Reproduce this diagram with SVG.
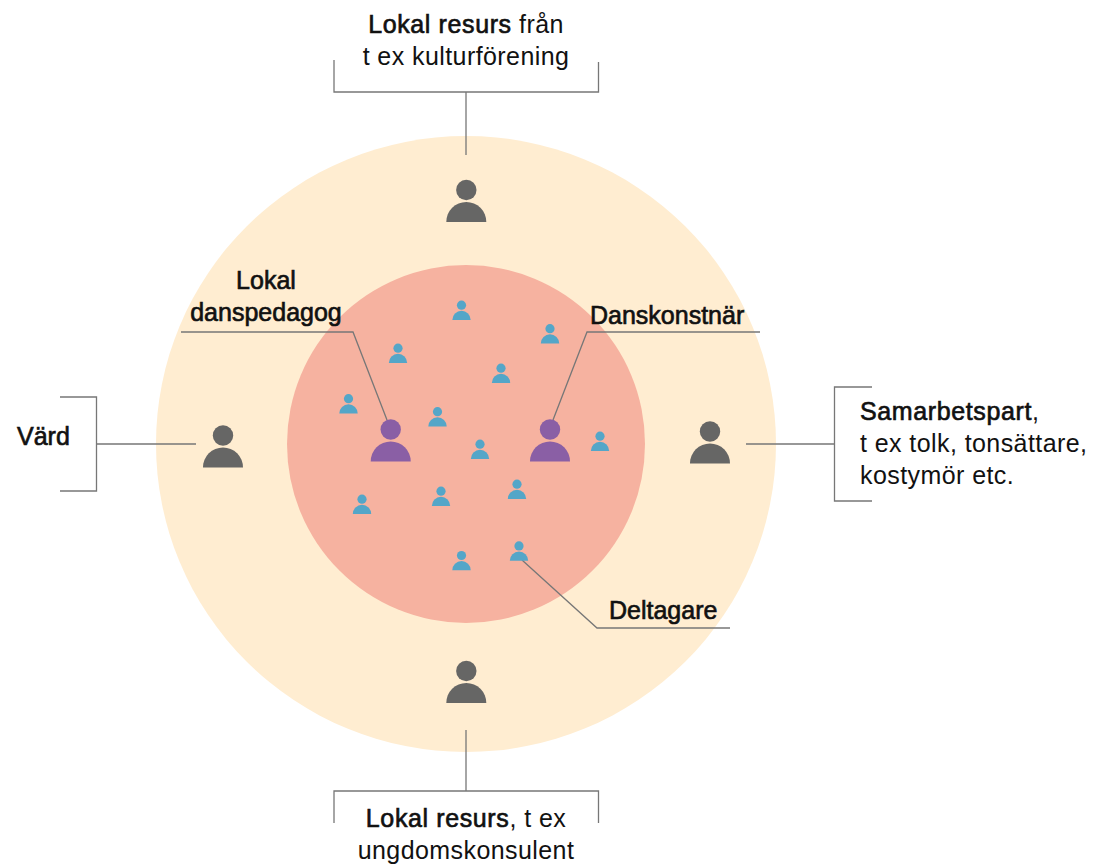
<svg xmlns="http://www.w3.org/2000/svg" width="1094" height="866" viewBox="0 0 1094 866">
<style>
.t{font-family:"Liberation Sans",Arial,sans-serif;font-size:25px;letter-spacing:.42px;fill:#111}
.b{stroke:#111;stroke-width:.65px;letter-spacing:.62px}
.n{stroke:#111;stroke-width:.65px;letter-spacing:0}
.c{text-anchor:middle}
.l{fill:none;stroke:#777;stroke-width:1.3}
.g{fill:#666665}.p{fill:#8a5fa5}.s{fill:#54a6c8}
</style>
<defs>
<g id="big"><circle cx="0" cy="-32" r="10.2"/><path d="M-20 0A20 20 0 0 1 20 0Z"/></g>
<g id="small"><circle cx="0" cy="-14.8" r="4.6"/><path d="M-9.2 0A9.2 9.2 0 0 1 9.2 0Z"/></g>
</defs>
<rect width="1094" height="866" fill="#fff"/>
<g id="circles">
<ellipse cx="466" cy="444" rx="310" ry="308" fill="#ffedd1"/>
<circle cx="466" cy="444" r="179" fill="#f6b2a0"/>
</g>
<g id="connectors">
<path class="l" d="M334 60V92H598.500V62M466 92V155"/>
<path class="l" d="M334 823V791H598.500V823M466 791V730"/>
<path class="l" d="M60 397H96.500V491H60M96.500 444H196"/>
<path class="l" d="M872 387H834.500V501H872M834.500 444H746"/>
<path class="l" d="M181 332H353L387 420"/>
<path class="l" d="M760 332H587L553 420"/>
<path class="l" d="M522 560L597 628H730"/>
</g>
<g id="node-top" class="g"><use href="#big" x="466.300" y="222"/></g>
<g id="node-bottom" class="g"><use href="#big" x="466.300" y="703"/></g>
<g id="node-left" class="g"><use href="#big" x="223" y="467.500"/></g>
<g id="node-right" class="g"><use href="#big" x="710" y="463.500"/></g>
<g id="node-danspedagog" class="p"><use href="#big" x="390.700" y="461.500"/></g>
<g id="node-danskonstnar" class="p"><use href="#big" x="550" y="461.500"/></g>
<g id="participants" class="s">
<use href="#small" x="461.500" y="320"/>
<use href="#small" x="550" y="343.500"/>
<use href="#small" x="398" y="363"/>
<use href="#small" x="501" y="383"/>
<use href="#small" x="348.500" y="413.500"/>
<use href="#small" x="437.500" y="426.500"/>
<use href="#small" x="480" y="459"/>
<use href="#small" x="600" y="451"/>
<use href="#small" x="517" y="499"/>
<use href="#small" x="441" y="506"/>
<use href="#small" x="362" y="514"/>
<use href="#small" x="519" y="560.700"/>
<use href="#small" x="461.500" y="570.300"/>
</g>
<g id="labels">
<text class="t c" x="466" y="33"><tspan class="b">Lokal resurs</tspan> från</text>
<text class="t c" x="466" y="65">t ex kulturförening</text>
<text class="t c" x="466" y="827"><tspan class="b">Lokal resurs</tspan>, t ex</text>
<text class="t c" x="466" y="859">ungdomskonsulent</text>
<text class="t n c" x="266" y="289">Lokal</text>
<text class="t n c" x="266" y="321">danspedagog</text>
<text class="t n" x="590" y="324">Danskonstnär</text>
<text class="t n" x="17" y="445">Värd</text>
<text class="t" x="860" y="420"><tspan class="b">Samarbetspart</tspan>,</text>
<text class="t" x="860" y="452">t ex tolk, tonsättare,</text>
<text class="t" x="860" y="484">kostymör etc.</text>
<text class="t n" x="609" y="619">Deltagare</text>
</g>
</svg>
